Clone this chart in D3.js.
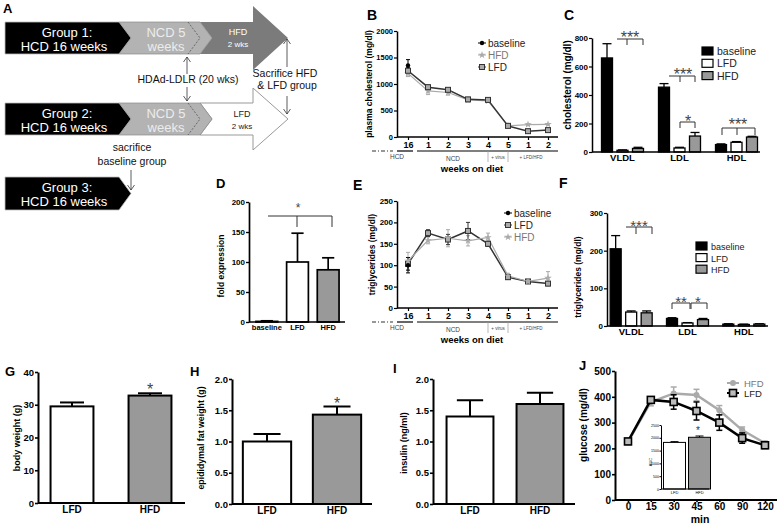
<!DOCTYPE html>
<html><head><meta charset="utf-8">
<script src="https://cdn.jsdelivr.net/npm/d3@7"></script>
<style>body{margin:0;background:#fff}svg{display:block}</style>
</head><body><script>
// ================= DATA =================
const weekLabels   = ["16","1","2","3","4","5","1","2"];
const cholLFD      = [1250, 940, 890, 710, 700, 210, 110, 130];
const cholLFDErr   = [  60,  40,  30,  30,  20,  15,  15,  15];
const cholHFD      = [1200, 870, 840, 700, 680, 210, 235, 240];
const cholHFDErr   = [  60,  70,  50,  40,  20,  15,  15,  15];
const cholBase     = [1350];
const cholBaseErr  = [110];

const lipoClasses  = ["VLDL","LDL","HDL"];
const groupKeys    = ["baseline","LFD","HFD"];
const lpCholBase   = [660, 455, 52];
const lpCholBaseE  = [100,  25,  5];
const lpCholLFD    = [ 12,  28, 68];
const lpCholLFDE   = [  3,   5,  5];
const lpCholHFD    = [ 25, 112,105];
const lpCholHFDE   = [  8,  25,  5];

const foldGroups   = ["baseline","LFD","HFD"];
const foldValues   = [1, 100, 87];
const foldErr      = [1, 48, 20];

const tgLFD        = [103, 175, 160, 180, 150, 72, 62, 57];
const tgLFDErr     = [ 15,   8,  12,  20,   6,  5,  4,  5];
const tgHFD        = [110, 158, 163, 157, 165, 75, 62, 70];
const tgHFDErr     = [ 20,   8,  20,  12,  10,  6,  5, 15];
const tgBase       = [100];
const tgBaseErr    = [18];

const lpTgBase     = [205, 20, 5];
const lpTgBaseE    = [ 35,  2, 1];
const lpTgLFD      = [ 37,  8, 4];
const lpTgLFDE     = [  3,  1, 1];
const lpTgHFD      = [ 35, 17, 5];
const lpTgHFDE     = [  5,  3, 1];

const dietGroups   = ["LFD","HFD"];
const bodyWeight   = [29.5, 32.8];
const bodyWeightE  = [1.2, 0.7];
const fatWeight    = [1.0, 1.43];
const fatWeightE   = [0.12, 0.13];
const insulin      = [1.4, 1.6];
const insulinE     = [0.26, 0.18];

const gttTimes     = ["0","15","30","45","60","90","120"];
const gttHFD       = [225, 380, 413, 407, 348, 271, 220];
const gttHFDErr    = [ 10,  15,  25,  22,  18,  12,   8];
const gttLFD       = [227, 388, 380, 345, 300, 240, 212];
const gttLFDErr    = [ 10,  12,  28,  35,  30,  20,  12];
const aucValues    = [1820, 2020];
const aucErr       = [30, 50];

// ================= SETUP =================
const FONT = "'Liberation Sans', Arial, Helvetica, sans-serif";
const W = 779, H = 524;
const svg = d3.select("body").append("svg").attr("width", W).attr("height", H)
  .attr("font-family", FONT);
svg.append("rect").attr("width", W).attr("height", H).attr("fill", "#fff");

function txt(x, y, s, o = {}) {
  const t = svg.append("text").attr("x", x).attr("y", y).text(s)
    .attr("font-size", o.size || 10)
    .attr("font-weight", o.bold ? "bold" : "normal")
    .attr("fill", o.fill || "#000")
    .attr("text-anchor", o.anchor || "start");
  if (o.rotate) t.attr("transform", `rotate(-90,${x},${y})`);
  return t;
}
function line(x1, y1, x2, y2, stroke = "#000", w = 1, dash = null) {
  const l = svg.append("line").attr("x1", x1).attr("y1", y1).attr("x2", x2).attr("y2", y2)
    .attr("stroke", stroke).attr("stroke-width", w);
  if (dash) l.attr("stroke-dasharray", dash);
  return l;
}
function poly(pts, fill, stroke = "none", sw = 1) {
  return svg.append("polygon").attr("points", pts.map(p => p.join(",")).join(" "))
    .attr("fill", fill).attr("stroke", stroke).attr("stroke-width", sw);
}
function arrow(x, yFrom, yTo, col = "#333") {
  line(x, yFrom, x, yTo, col, 0.8);
  const d = yTo > yFrom ? -1 : 1;
  svg.append("path").attr("d", `M${x - 3.5},${yTo + d * 5}L${x},${yTo}L${x + 3.5},${yTo + d * 5}`)
    .attr("fill", "none").attr("stroke", col).attr("stroke-width", 0.8);
}
function yAxis(scale, x, ticks, fmt, size, sw = 1.6) {
  const g = svg.append("g").attr("transform", `translate(${x},0)`)
    .call(d3.axisLeft(scale).tickValues(ticks).tickFormat(fmt).tickSize(3).tickSizeOuter(0).tickPadding(1));
  g.attr("font-family", FONT);
  g.select(".domain").attr("stroke", "#000").attr("stroke-width", sw);
  g.selectAll(".tick line").attr("stroke", "#000").attr("stroke-width", sw * 0.8);
  g.selectAll(".tick text").attr("font-size", size).attr("font-weight", "bold").attr("fill", "#000");
  return g;
}
function xCatAxis(scale, y, xStart, xEnd, fmt, size, tick, sw = 1.6, pad = 2) {
  const g = svg.append("g").attr("transform", `translate(0,${y})`)
    .call(d3.axisBottom(scale).tickSize(tick).tickSizeOuter(0).tickPadding(pad).tickFormat(fmt));
  g.attr("font-family", FONT);
  g.select(".domain").remove();
  g.selectAll(".tick line").attr("stroke", "#000").attr("stroke-width", sw * 0.8);
  g.selectAll(".tick text").attr("font-size", size).attr("font-weight", "bold").attr("fill", "#000");
  line(xStart, y, xEnd, y, "#000", sw);
  return g;
}
function errBar(x, yv, ye, cap, col = "#000", w = 1.2) {
  line(x, yv, x, ye, col, w);
  line(x - cap, ye, x + cap, ye, col, w);
}
function stars(x, glyphTop, s, size, fill = "#444") {
  txt(x, glyphTop + 0.72 * size, s, { size, anchor: "middle", fill });
}
function bracket(xa, xb, y, drops, dropLen, col = "#333") {
  line(xa, y, xb, y, col, 1);
  drops.forEach(dx => line(dx, y, dx, y + dropLen, col, 1));
}
function label(s, x, y, size = 14) { txt(x, y, s, { size, bold: true }); }

// ================= PANEL A =================
label("A", 3, 13, 13);
function row(y0, y1, hTop, hBot, lastFill, lastStroke, grp) {
  const ym = (y0 + y1) / 2;
  poly([[200, y0], [253, y0], [253, hTop], [288, (hTop + hBot) / 2], [253, hBot], [253, y1], [200, y1], [212, ym]],
    lastFill, lastStroke, lastStroke === "none" ? 0 : 1);
  poly([[119, y0], [200, y0], [212, ym], [200, y1], [119, y1], [131, ym]], "#b3b3b3", "#8a8a8a", 0.7);
  svg.append("polyline").attr("points", `188,${y0} 200,${ym} 188,${y1}`)
    .attr("fill", "none").attr("stroke", "#555").attr("stroke-width", 0.8).attr("stroke-dasharray", "2,1.5");
  poly([[5, y0], [119, y0], [131, ym], [119, y1], [5, y1]], "#000", "#bbb", 0.8);
  txt(67, y0 + 15, grp, { size: 13, fill: "#fff", anchor: "middle" });
  txt(64, y0 + 29, "HCD 16 weeks", { size: 13, fill: "#fff", anchor: "middle" });
  txt(166, y0 + 15, "NCD 5", { size: 13, fill: "#ececec", anchor: "middle" });
  txt(166, y0 + 29, "weeks", { size: 13, fill: "#ececec", anchor: "middle" });
}
row(22, 54, 6, 70, "#7b7b7b", "none", "Group 1:");
txt(238, 35, "HFD", { size: 9, fill: "#fff", anchor: "middle" });
txt(238, 47, "2 wks", { size: 8, fill: "#fff", anchor: "middle" });
row(103, 135, 88, 150, "#fff", "#999", "Group 2:");
txt(242, 117, "LFD", { size: 9, fill: "#222", anchor: "middle" });
txt(242, 129, "2 wks", { size: 8, fill: "#222", anchor: "middle" });
poly([[5, 177], [119, 177], [131, 193.5], [119, 210], [5, 210]], "#000", "#bbb", 0.8);
txt(67, 192, "Group 3:", { size: 13, fill: "#fff", anchor: "middle" });
txt(64, 206, "HCD 16 weeks", { size: 13, fill: "#fff", anchor: "middle" });
txt(188, 83, "HDAd-LDLR (20 wks)", { size: 10.5, anchor: "middle", fill: "#111" });
arrow(187, 74, 57);
arrow(187, 87, 101);
txt(285, 77, "Sacrifice HFD", { size: 10.5, anchor: "middle", fill: "#111" });
txt(287, 89, "& LFD group", { size: 10.5, anchor: "middle", fill: "#111" });
arrow(287, 67, 39);
arrow(287, 96, 114);
txt(132, 151, "sacrifice", { size: 10.5, anchor: "middle", fill: "#111" });
txt(132, 165, "baseline group", { size: 10.5, anchor: "middle", fill: "#111" });
arrow(131, 170, 190);

// ================= WEEKS LINE PANELS (B, E) =================
function weeksPanel(cfg) {
  const x = d3.scalePoint().domain(d3.range(weekLabels.length)).range([408, 548]);
  const y = d3.scaleLinear().domain([0, cfg.max]).range([cfg.yBase, cfg.yTop]);
  yAxis(y, 397, cfg.ticks, d3.format("d"), cfg.tickSize, 1.5);
  xCatAxis(x, cfg.yBase, 397, 558, i => weekLabels[i], 9, 3, 1.5, 1.5);
  const ya = cfg.yBase + 14;
  line(372, ya, 393, ya, "#333", 1.2, "4,2,1,2");
  line(397, ya, 413, ya, "#000", 1.2);
  line(417, ya, 558, ya, "#000", 1.2);
  line(x(4), ya, x(4), ya + 11, "#999", 0.7);
  line(x(5), ya, x(5), ya + 11, "#999", 0.7);
  txt(397, ya + 8, "HCD", { size: 6.5, anchor: "middle", fill: "#444" });
  txt(453, ya + 10, "NCD", { size: 6.5, anchor: "middle", fill: "#444" });
  txt(498, ya + 8, "+ virus", { size: 4.5, anchor: "middle", fill: "#444" });
  txt(531, ya + 8, "+ LFD/HFD", { size: 4.5, anchor: "middle", fill: "#444" });
  txt(472, cfg.yBase + 35, "weeks on diet", { size: 9.5, bold: true, anchor: "middle" });
  txt(cfg.labelX, (cfg.yBase + cfg.yTop) / 2, cfg.ylabel, { size: 8.5, bold: true, anchor: "middle", rotate: true });

  const ln = d3.line().x((d, i) => x(i)).y(d => y(d));
  const eb = (px, v, e, col) => { line(px, y(v - e), px, y(v + e), col, 1); line(px - 2, y(v + e), px + 2, y(v + e), col, 1); line(px - 2, y(v - e), px + 2, y(v - e), col, 1); };
  cfg.hfd.forEach((v, i) => eb(x(i), v, cfg.hfdE[i], "#aaa"));
  cfg.lfd.forEach((v, i) => eb(x(i), v, cfg.lfdE[i], "#333"));
  cfg.base.forEach((v, i) => eb(x(i), v, cfg.baseE[i], "#000"));
  const hfdLine = svg.append("path").attr("d", ln(cfg.hfd)).attr("fill", "none").attr("stroke", "#aaa").attr("stroke-width", 1.2);
  svg.append("path").attr("d", ln(cfg.lfd)).attr("fill", "none").attr("stroke", "#333").attr("stroke-width", 1.5);
  if (cfg.hfdTop) hfdLine.raise();
  const drawH = () => cfg.hfd.forEach((v, i) => svg.append("path").attr("d", d3.symbol().type(d3.symbolStar).size(18)())
    .attr("transform", `translate(${x(i)},${y(v)})`).attr("fill", "#aaa"));
  const drawL = () => cfg.lfd.forEach((v, i) => svg.append("rect").attr("x", x(i) - 2.5).attr("y", y(v) - 2.5).attr("width", 5).attr("height", 5)
    .attr("fill", "#aaa").attr("stroke", "#333").attr("stroke-width", 1));
  (cfg.hfdTop ? [drawL, drawH] : [drawH, drawL]).forEach(f => f());
  cfg.base.forEach((v, i) => svg.append("circle").attr("cx", x(i)).attr("cy", y(v)).attr("r", 2.2).attr("fill", "#000"));
  cfg.legend.forEach((k, j) => {
    const ly = cfg.legY + j * 12, lx = cfg.legX;
    if (k === "baseline") { line(lx - 4, ly, lx + 4, ly, "#000", 1); svg.append("circle").attr("cx", lx).attr("cy", ly).attr("r", 2.2).attr("fill", "#000"); }
    if (k === "HFD") { line(lx - 4, ly, lx + 4, ly, "#aaa", 1); svg.append("path").attr("d", d3.symbol().type(d3.symbolStar).size(18)()).attr("transform", `translate(${lx},${ly})`).attr("fill", "#aaa"); }
    if (k === "LFD") { line(lx - 4, ly, lx + 4, ly, "#333", 1); svg.append("rect").attr("x", lx - 2.5).attr("y", ly - 2.5).attr("width", 5).attr("height", 5).attr("fill", "#aaa").attr("stroke", "#333"); }
    txt(lx + 6, ly + 3.5, k, { size: 10, fill: k === "HFD" ? "#777" : "#222" });
  });
}

label("B", 367, 20, 14);
weeksPanel({ max: 2000, yBase: 137, yTop: 31, ticks: [0, 500, 1000, 1500, 2000], labelX: 372, tickSize: 7.5,
  ylabel: "plasma cholesterol (mg/dl)", lfd: cholLFD, lfdE: cholLFDErr, hfd: cholHFD, hfdE: cholHFDErr,
  base: cholBase, baseE: cholBaseErr, legend: ["baseline", "HFD", "LFD"], legX: 482, legY: 43, hfdTop: false });

label("E", 353, 190, 14);
weeksPanel({ max: 250, yBase: 308, yTop: 201, ticks: [0, 50, 100, 150, 200, 250], labelX: 375, tickSize: 8,
  ylabel: "triglycerides (mg/dl)", lfd: tgLFD, lfdE: tgLFDErr, hfd: tgHFD, hfdE: tgHFDErr,
  base: tgBase, baseE: tgBaseErr, legend: ["baseline", "LFD", "HFD"], legX: 508, legY: 213, hfdTop: true });

// ================= GROUPED BAR PANELS (C, F) =================
const groupFill = { baseline: "#000", LFD: "#fff", HFD: "#999" };
function groupedPanel(cfg) {
  const x0 = d3.scaleBand().domain(lipoClasses).range(cfg.bandRange);
  const x1 = d3.scalePoint().domain(groupKeys).range([-cfg.step, cfg.step]);
  const y = d3.scaleLinear().domain([0, cfg.max]).range([cfg.yBase, cfg.yTop]);
  const cx = c => x0(c) + x0.bandwidth() / 2;
  const series = { baseline: [cfg.base, cfg.baseE], LFD: [cfg.lfd, cfg.lfdE], HFD: [cfg.hfd, cfg.hfdE] };
  lipoClasses.forEach((c, ci) => groupKeys.forEach(k => {
    const v = series[k][0][ci], e = series[k][1][ci], bx = cx(c) + x1(k);
    errBar(bx, y(v), y(v + e), cfg.barW / 2 - 1, "#000", 1.3);
    svg.append("rect").attr("x", bx - cfg.barW / 2).attr("y", y(v)).attr("width", cfg.barW).attr("height", cfg.yBase - y(v))
      .attr("fill", groupFill[k]).attr("stroke", "#000").attr("stroke-width", 1.3);
  }));
  yAxis(y, cfg.axisX, cfg.ticks, d3.format("d"), 8, 1.5);
  xCatAxis(x0, cfg.yBase, cfg.axisX, cfg.axisEnd, d => d, 9.5, 0, 1.5);
  txt(cfg.labelX, cfg.labelY, cfg.ylabel, { size: cfg.labelSize, bold: true, anchor: "middle", rotate: true });
  groupKeys.forEach((k, j) => {
    const ly = cfg.legY + j * cfg.legStep;
    svg.append("rect").attr("x", cfg.legX).attr("y", ly - 4).attr("width", 11).attr("height", 8)
      .attr("fill", groupFill[k]).attr("stroke", "#000").attr("stroke-width", 1.2);
    txt(cfg.legX + 15, ly + 4, k, { size: cfg.legSize, fill: "#222" });
  });
}

label("C", 564, 20, 14);
groupedPanel({ bandRange: [594, 765], step: 15.5, barW: 11, max: 800, yBase: 152, yTop: 38, axisX: 592, axisEnd: 760,
  ticks: [0, 200, 400, 600, 800], base: lpCholBase, baseE: lpCholBaseE, lfd: lpCholLFD, lfdE: lpCholLFDE,
  hfd: lpCholHFD, hfdE: lpCholHFDE, ylabel: "cholesterol (mg/dl)", labelX: 571, labelY: 85, labelSize: 10,
  legX: 702, legY: 51, legStep: 12.3, legSize: 10.5 });
bracket(617, 643, 39, [627, 643], 6); stars(630, 31, "***", 16);
bracket(669, 695, 76, [680, 695], 6); stars(683, 68, "***", 16);
bracket(680, 695, 122, [680, 695], 6); stars(688, 115, "*", 16);
bracket(722, 755, 128, [722, 737, 755], 7); stars(738, 118, "***", 16);

label("F", 559, 188, 14);
groupedPanel({ bandRange: [603, 772], step: 15.5, barW: 11, max: 300, yBase: 326, yTop: 213, axisX: 607, axisEnd: 768,
  ticks: [0, 100, 200, 300], base: lpTgBase, baseE: lpTgBaseE, lfd: lpTgLFD, lfdE: lpTgLFDE,
  hfd: lpTgHFD, hfdE: lpTgHFDE, ylabel: "triglycerides (mg/dl)", labelX: 581, labelY: 277, labelSize: 8.5,
  legX: 696, legY: 246, legStep: 11.6, legSize: 9 });
bracket(626, 652, 227, [636, 652], 7); stars(639, 220, "***", 15);
bracket(672, 690, 303, [672, 690], 6); stars(681, 296, "**", 15);
bracket(691, 707, 303, [691, 707], 6); stars(698, 296, "*", 15);

// ================= SIMPLE BAR PANELS (D, G, H, I) =================
function barPanel(cfg) {
  const x = d3.scaleBand().domain(cfg.groups).range(cfg.range).paddingInner(cfg.pad).paddingOuter(cfg.pad / 2);
  const y = d3.scaleLinear().domain([0, cfg.max]).range([cfg.yBase, cfg.yTop]);
  cfg.values.forEach((v, i) => {
    const g = cfg.groups[i], bx = x(g) + x.bandwidth() / 2;
    errBar(bx, y(v), y(v + cfg.errs[i]), x.bandwidth() * 0.28, "#000", cfg.sw);
    svg.append("rect").attr("x", x(g)).attr("y", y(v)).attr("width", x.bandwidth()).attr("height", cfg.yBase - y(v))
      .attr("fill", cfg.fills[i]).attr("stroke", "#000").attr("stroke-width", cfg.sw);
  });
  yAxis(y, cfg.axisX, cfg.ticks, cfg.fmt, cfg.tickSize, cfg.sw);
  xCatAxis(x, cfg.yBase, cfg.axisX, cfg.axisEnd, d => d, cfg.xSize, 0, cfg.sw, 3);
  txt(cfg.labelX, cfg.labelY, cfg.ylabel, { size: cfg.labelSize, bold: true, anchor: "middle", rotate: true });
  return { x, y };
}

label("D", 216, 188, 13);
barPanel({ groups: foldGroups, values: foldValues, errs: foldErr, fills: ["#000", "#fff", "#999"],
  range: [251.5, 343.5], pad: 0.29, max: 200, yBase: 322, yTop: 202, axisX: 249, axisEnd: 345,
  ticks: [0, 50, 100, 150, 200], fmt: d3.format("d"), tickSize: 8, sw: 1.7, xSize: 7.5,
  ylabel: "fold expression", labelX: 224, labelY: 266, labelSize: 8.5 });
bracket(268, 332, 216, [297, 332], 11); stars(298, 203, "*", 12);

label("G", 5, 376, 13);
barPanel({ groups: dietGroups, values: bodyWeight, errs: bodyWeightE, fills: ["#fff", "#999"],
  range: [33, 189], pad: 0.45, max: 40, yBase: 503, yTop: 372, axisX: 38, axisEnd: 185,
  ticks: [0, 10, 20, 30, 40], fmt: d3.format("d"), tickSize: 9.5, sw: 2, xSize: 10,
  ylabel: "body weight (g)", labelX: 20, labelY: 438, labelSize: 9 });
stars(150, 383, "*", 16);

label("H", 190, 376, 13);
barPanel({ groups: dietGroups, values: fatWeight, errs: fatWeightE, fills: ["#fff", "#999"],
  range: [232, 372], pad: 0.31, max: 2, yBase: 504, yTop: 379, axisX: 232, axisEnd: 372,
  ticks: [0, 0.5, 1, 1.5, 2], fmt: d3.format(".1f"), tickSize: 9.5, sw: 2, xSize: 10,
  ylabel: "epididymal fat weight (g)", labelX: 204, labelY: 438, labelSize: 8.8 });
stars(337, 397, "*", 16);

label("I", 393, 373, 13);
barPanel({ groups: dietGroups, values: insulin, errs: insulinE, fills: ["#fff", "#999"],
  range: [435, 575], pad: 0.33, max: 2, yBase: 504, yTop: 379, axisX: 433, axisEnd: 575,
  ticks: [0, 0.5, 1, 1.5, 2], fmt: d3.format(".1f"), tickSize: 9.5, sw: 2, xSize: 10,
  ylabel: "insulin (ng/ml)", labelX: 407, labelY: 443, labelSize: 9 });

// ================= PANEL J =================
label("J", 579, 370, 13);
{
  const x = d3.scalePoint().domain(gttTimes).range([628, 765]);
  const y = d3.scaleLinear().domain([0, 500]).range([500, 371]);
  const ln = d3.line().x((d, i) => x(gttTimes[i])).y(d => y(d));
  const eb = (px, v, e, col) => { line(px, y(v - e), px, y(v + e), col, 1.5); line(px - 3, y(v + e), px + 3, y(v + e), col, 1.5); line(px - 3, y(v - e), px + 3, y(v - e), col, 1.5); };
  gttHFD.forEach((v, i) => eb(x(gttTimes[i]), v, gttHFDErr[i], "#aaa"));
  svg.append("path").attr("d", ln(gttHFD)).attr("fill", "none").attr("stroke", "#aaa").attr("stroke-width", 2.5);
  gttHFD.forEach((v, i) => svg.append("circle").attr("cx", x(gttTimes[i])).attr("cy", y(v)).attr("r", 3).attr("fill", "#aaa"));
  gttLFD.forEach((v, i) => eb(x(gttTimes[i]), v, gttLFDErr[i], "#000"));
  svg.append("path").attr("d", ln(gttLFD)).attr("fill", "none").attr("stroke", "#000").attr("stroke-width", 2.5);
  gttLFD.forEach((v, i) => svg.append("rect").attr("x", x(gttTimes[i]) - 3.5).attr("y", y(v) - 3.5).attr("width", 7).attr("height", 7)
    .attr("fill", "#bbb").attr("stroke", "#000").attr("stroke-width", 1.6));
  yAxis(y, 615, [0, 100, 200, 300, 400, 500], d3.format("d"), 10, 2);
  xCatAxis(x, 500, 615, 777, d => d, 10, 2, 2, 0.5);
  txt(700, 522.5, "min", { size: 10.5, bold: true, anchor: "middle" });
  txt(587, 425, "glucose (mg/dl)", { size: 10, bold: true, anchor: "middle", rotate: true });
  line(727, 383, 739, 383, "#aaa", 2); svg.append("circle").attr("cx", 733).attr("cy", 383).attr("r", 3).attr("fill", "#aaa");
  txt(744, 386.5, "HFD", { size: 9.5, fill: "#777" });
  line(727, 393, 739, 393, "#000", 2); svg.append("rect").attr("x", 729.5).attr("y", 389.5).attr("width", 7).attr("height", 7).attr("fill", "#bbb").attr("stroke", "#000").attr("stroke-width", 1.6);
  txt(744, 396.5, "LFD", { size: 9.5, fill: "#222" });

  // inset AUC
  const ix = d3.scaleBand().domain(dietGroups).range([662, 712]).paddingInner(0.12).paddingOuter(0.06);
  const iy = d3.scaleLinear().domain([0, 2500]).range([489, 425]);
  aucValues.forEach((v, i) => {
    const g = dietGroups[i], bx = ix(g) + ix.bandwidth() / 2;
    errBar(bx, iy(v), iy(v + aucErr[i]), 4, "#000", 1);
    svg.append("rect").attr("x", ix(g)).attr("y", iy(v)).attr("width", ix.bandwidth()).attr("height", 489 - iy(v))
      .attr("fill", i ? "#999" : "#fff").attr("stroke", "#000").attr("stroke-width", 1);
  });
  const ia = svg.append("g").attr("transform", "translate(661,0)")
    .call(d3.axisLeft(iy).tickValues([0, 500, 1000, 1500, 2000, 2500]).tickFormat(d3.format("d")).tickSize(1.5).tickSizeOuter(0).tickPadding(0.5));
  ia.select(".domain").attr("stroke", "#000").attr("stroke-width", 1);
  ia.selectAll(".tick line").attr("stroke", "#000");
  ia.selectAll(".tick text").attr("font-size", 3.6).attr("font-family", FONT).attr("fill", "#000");
  const ib = svg.append("g").attr("transform", "translate(0,489)").call(d3.axisBottom(ix).tickSize(0).tickPadding(2));
  ib.select(".domain").remove();
  ib.selectAll(".tick text").attr("font-size", 4).attr("font-family", FONT).attr("fill", "#000");
  line(661, 489, 709, 489, "#000", 1);
  txt(652, 462, "AUC", { size: 4, anchor: "middle", rotate: true });
  stars(698, 427, "*", 10, "#333");
}
</script></body></html>
